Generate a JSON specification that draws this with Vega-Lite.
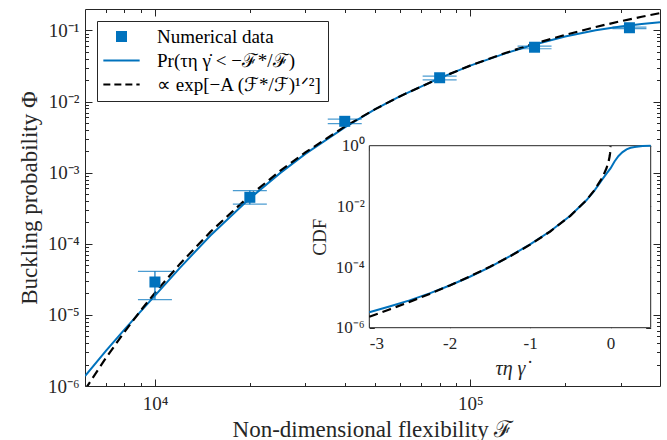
{
  "$schema": "https://vega.github.io/schema/vega-lite/v6.json",
  "width": 575,
  "height": 377,
  "autosize": {"type": "none"},
  "padding": {"left": 85, "top": 9, "right": 7, "bottom": 54},
  "background": "white",
  "datasets": {
    "blue": [
      {"F": 6000, "P": 1.38e-6, "s": "Pr(τη γ̇ < −ℱ*/ℱ)"},
      {"F": 7000, "P": 3.148e-6, "s": "Pr(τη γ̇ < −ℱ*/ℱ)"},
      {"F": 8000, "P": 6.22e-6, "s": "Pr(τη γ̇ < −ℱ*/ℱ)"},
      {"F": 9000, "P": 1.114e-5, "s": "Pr(τη γ̇ < −ℱ*/ℱ)"},
      {"F": 10000, "P": 1.862e-5, "s": "Pr(τη γ̇ < −ℱ*/ℱ)"},
      {"F": 12000, "P": 4.59e-5, "s": "Pr(τη γ̇ < −ℱ*/ℱ)"},
      {"F": 15000, "P": 1.309e-4, "s": "Pr(τη γ̇ < −ℱ*/ℱ)"},
      {"F": 20000, "P": 4.35e-4, "s": "Pr(τη γ̇ < −ℱ*/ℱ)"},
      {"F": 25000, "P": 9.93e-4, "s": "Pr(τη γ̇ < −ℱ*/ℱ)"},
      {"F": 30000, "P": 1.837e-3, "s": "Pr(τη γ̇ < −ℱ*/ℱ)"},
      {"F": 40000, "P": 4.33e-3, "s": "Pr(τη γ̇ < −ℱ*/ℱ)"},
      {"F": 50000, "P": 7.82e-3, "s": "Pr(τη γ̇ < −ℱ*/ℱ)"},
      {"F": 60000, "P": 0.01189, "s": "Pr(τη γ̇ < −ℱ*/ℱ)"},
      {"F": 80000, "P": 0.02138, "s": "Pr(τη γ̇ < −ℱ*/ℱ)"},
      {"F": 100000, "P": 0.03199, "s": "Pr(τη γ̇ < −ℱ*/ℱ)"},
      {"F": 130000, "P": 0.04797, "s": "Pr(τη γ̇ < −ℱ*/ℱ)"},
      {"F": 160000, "P": 0.06339, "s": "Pr(τη γ̇ < −ℱ*/ℱ)"},
      {"F": 200000, "P": 0.08222, "s": "Pr(τη γ̇ < −ℱ*/ℱ)"},
      {"F": 250000, "P": 0.1007, "s": "Pr(τη γ̇ < −ℱ*/ℱ)"},
      {"F": 300000, "P": 0.1132, "s": "Pr(τη γ̇ < −ℱ*/ℱ)"},
      {"F": 350000, "P": 0.123, "s": "Pr(τη γ̇ < −ℱ*/ℱ)"},
      {"F": 400000, "P": 0.1303, "s": "Pr(τη γ̇ < −ℱ*/ℱ)"}
    ],
    "dash": [
      {"F": 6000, "P": 8.91e-7, "s": "∝ exp[−A (ℱ*/ℱ)¹ᐟ²]"},
      {"F": 7000, "P": 2.5e-6, "s": "∝ exp[−A (ℱ*/ℱ)¹ᐟ²]"},
      {"F": 8000, "P": 5.74e-6, "s": "∝ exp[−A (ℱ*/ℱ)¹ᐟ²]"},
      {"F": 9000, "P": 1.14e-5, "s": "∝ exp[−A (ℱ*/ℱ)¹ᐟ²]"},
      {"F": 10000, "P": 2.042e-5, "s": "∝ exp[−A (ℱ*/ℱ)¹ᐟ²]"},
      {"F": 12000, "P": 5.21e-5, "s": "∝ exp[−A (ℱ*/ℱ)¹ᐟ²]"},
      {"F": 15000, "P": 1.469e-4, "s": "∝ exp[−A (ℱ*/ℱ)¹ᐟ²]"},
      {"F": 20000, "P": 4.76e-4, "s": "∝ exp[−A (ℱ*/ℱ)¹ᐟ²]"},
      {"F": 25000, "P": 1.064e-3, "s": "∝ exp[−A (ℱ*/ℱ)¹ᐟ²]"},
      {"F": 30000, "P": 1.923e-3, "s": "∝ exp[−A (ℱ*/ℱ)¹ᐟ²]"},
      {"F": 40000, "P": 4.43e-3, "s": "∝ exp[−A (ℱ*/ℱ)¹ᐟ²]"},
      {"F": 50000, "P": 7.82e-3, "s": "∝ exp[−A (ℱ*/ℱ)¹ᐟ²]"},
      {"F": 60000, "P": 0.01189, "s": "∝ exp[−A (ℱ*/ℱ)¹ᐟ²]"},
      {"F": 80000, "P": 0.02138, "s": "∝ exp[−A (ℱ*/ℱ)¹ᐟ²]"},
      {"F": 100000, "P": 0.03199, "s": "∝ exp[−A (ℱ*/ℱ)¹ᐟ²]"},
      {"F": 130000, "P": 0.04853, "s": "∝ exp[−A (ℱ*/ℱ)¹ᐟ²]"},
      {"F": 160000, "P": 0.06516, "s": "∝ exp[−A (ℱ*/ℱ)¹ᐟ²]"},
      {"F": 200000, "P": 0.0865, "s": "∝ exp[−A (ℱ*/ℱ)¹ᐟ²]"},
      {"F": 250000, "P": 0.1117, "s": "∝ exp[−A (ℱ*/ℱ)¹ᐟ²]"},
      {"F": 300000, "P": 0.1346, "s": "∝ exp[−A (ℱ*/ℱ)¹ᐟ²]"},
      {"F": 350000, "P": 0.1556, "s": "∝ exp[−A (ℱ*/ℱ)¹ᐟ²]"},
      {"F": 400000, "P": 0.175, "s": "∝ exp[−A (ℱ*/ℱ)¹ᐟ²]"}
    ],
    "pts": [
      {"F": 10000, "P": 2.9e-5, "lo": 1.64e-5, "hi": 4.1e-5, "s": "Numerical data"},
      {"F": 20000, "P": 4.5e-4, "lo": 3.6e-4, "hi": 5.6e-4, "s": "Numerical data"},
      {"F": 40000, "P": 5.27e-3, "lo": 4.9e-3, "hi": 5.64e-3, "s": "Numerical data"},
      {"F": 80000, "P": 2.16e-2, "lo": 2.02e-2, "hi": 2.28e-2, "s": "Numerical data"},
      {"F": 160000, "P": 5.8e-2, "lo": 5.52e-2, "hi": 6.01e-2, "s": "Numerical data"},
      {"F": 320000, "P": 0.109, "lo": 0.106, "hi": 0.111, "s": "Numerical data"}
    ],
    "iblue": [
      {"t": -3, "c": 3.24e-6}, {"t": -2.75, "c": 5.01e-6}, {"t": -2.5, "c": 7.94e-6},
      {"t": -2.25, "c": 1.349e-5}, {"t": -2, "c": 2.455e-5}, {"t": -1.75, "c": 4.79e-5},
      {"t": -1.5, "c": 1.0e-4}, {"t": -1.25, "c": 2.29e-4}, {"t": -1, "c": 5.62e-4},
      {"t": -0.75, "c": 1.514e-3}, {"t": -0.5, "c": 4.9e-3}, {"t": -0.3, "c": 0.01585},
      {"t": -0.2, "c": 0.0331}, {"t": -0.1, "c": 0.0794}, {"t": -0.05, "c": 0.1202},
      {"t": 0, "c": 0.178}, {"t": 0.05, "c": 0.302}, {"t": 0.1, "c": 0.457},
      {"t": 0.15, "c": 0.617}, {"t": 0.2, "c": 0.759}, {"t": 0.25, "c": 0.851},
      {"t": 0.3, "c": 0.912}, {"t": 0.4, "c": 0.977}, {"t": 0.5, "c": 0.995}
    ],
    "idash": [
      {"t": -3, "c": 2.3e-6}, {"t": -2.75, "c": 3.99e-6}, {"t": -2.5, "c": 7.1e-6},
      {"t": -2.25, "c": 1.3e-5}, {"t": -2, "c": 2.47e-5}, {"t": -1.75, "c": 4.89e-5},
      {"t": -1.5, "c": 1.019e-4}, {"t": -1.25, "c": 2.26e-4}, {"t": -1, "c": 5.46e-4},
      {"t": -0.75, "c": 1.486e-3}, {"t": -0.5, "c": 4.86e-3}, {"t": -0.3, "c": 0.01603},
      {"t": -0.2, "c": 0.034}, {"t": -0.1, "c": 0.0904}, {"t": -0.05, "c": 0.1803},
      {"t": -0.02, "c": 0.333}, {"t": -0.01, "c": 0.455}, {"t": -0.005, "c": 0.566},
      {"t": -0.001, "c": 0.757}, {"t": 0, "c": 0.959}
    ],
    "ibox": [
      {"t": -3, "t2": 0.5, "c": 1e-6, "c2": 1}
    ]
  },
  "layer": [
    {
      "encoding": {
        "x": {
          "field": "F", "type": "quantitative", "title": "Non-dimensional flexibility ℱ",
          "scale": {"type": "log", "domain": [6000, 400000], "nice": false},
          "axis": {
            "orient": "bottom",
            "values": [7000, 8000, 9000, 10000, 20000, 30000, 40000, 50000, 60000, 70000, 80000, 90000, 100000, 200000, 300000],
            "labelExpr": "datum.value == 10000 ? '10⁴' : datum.value == 100000 ? '10⁵' : ''",
            "tickSize": {"condition": {"test": "datum.value == 10000 || datum.value == 100000", "value": -7}, "value": -3.5},
            "labelPadding": 15, "labelFontSize": 19, "titleFontSize": 23, "titlePadding": 5
          }
        }
      },
      "layer": [
        {
          "data": {"name": "blue"},
          "mark": {"type": "line", "strokeWidth": 2, "clip": true},
          "encoding": {
            "y": {
              "field": "P", "type": "quantitative", "title": "Buckling probability Φ",
              "scale": {"type": "log", "domain": [1e-6, 0.2], "nice": false},
              "axis": {
                "orient": "left",
                "values": [2e-6, 3e-6, 4e-6, 5e-6, 6e-6, 7e-6, 8e-6, 9e-6, 1e-5, 2e-5, 3e-5, 4e-5, 5e-5, 6e-5, 7e-5, 8e-5, 9e-5, 1e-4, 2e-4, 3e-4, 4e-4, 5e-4, 6e-4, 7e-4, 8e-4, 9e-4, 1e-3, 2e-3, 3e-3, 4e-3, 5e-3, 6e-3, 7e-3, 8e-3, 9e-3, 0.01, 0.02, 0.03, 0.04, 0.05, 0.06, 0.07, 0.08, 0.09, 0.1, 1e-6],
                "labelExpr": "datum.value == 1e-6 ? '10⁻⁶' : datum.value == 1e-5 ? '10⁻⁵' : datum.value == 1e-4 ? '10⁻⁴' : datum.value == 1e-3 ? '10⁻³' : datum.value == 0.01 ? '10⁻²' : datum.value == 0.1 ? '10⁻¹' : ''",
                "tickSize": {"condition": {"test": "indexof([1e-6, 1e-5, 1e-4, 1e-3, 0.01, 0.1], datum.value) >= 0", "value": -7}, "value": -3.5},
                "labelPadding": 13, "labelFontSize": 19, "titleFontSize": 23, "titlePadding": 6
              }
            },
            "color": {
              "field": "s", "type": "nominal",
              "scale": {"domain": ["Numerical data", "Pr(τη γ̇ < −ℱ*/ℱ)", "∝ exp[−A (ℱ*/ℱ)¹ᐟ²]"], "range": ["#0072BD", "#0072BD", "#000000"]},
              "legend": {
                "orient": "none", "legendX": 12, "legendY": 12, "title": null,
                "strokeColor": "#262626", "fillColor": "white", "padding": 6, "cornerRadius": 0,
                "labelFont": "Liberation Serif", "labelFontSize": 19, "labelColor": "#000000", "labelLimit": 400,
                "symbolSize": 121, "symbolOffset": 9, "labelOffset": 26, "rowPadding": 4,
                "encode": {
                  "symbols": {
                    "update": {
                      "shape": {"signal": "datum.value == 'Numerical data' ? 'square' : 'M-3.3,0H3.3'"},
                      "fill": {"signal": "datum.value == 'Numerical data' ? '#0072BD' : 'transparent'"},
                      "stroke": {"signal": "datum.value == 'Numerical data' ? 'transparent' : (indexof(datum.value, 'exp') >= 0 ? '#000000' : '#0072BD')"},
                      "strokeWidth": {"signal": "datum.value == 'Numerical data' ? 0 : 2.2"},
                      "strokeDash": {"signal": "indexof(datum.value, 'exp') >= 0 ? [7, 4] : [1, 0]"},
                      "opacity": {"value": 1}
                    }
                  }
                }
              }
            }
          }
        },
        {
          "data": {"name": "dash"},
          "mark": {"type": "line", "strokeWidth": 2.2, "strokeDash": [9, 5], "clip": true},
          "encoding": {
            "y": {"field": "P", "type": "quantitative", "title": "Buckling probability Φ"},
            "color": {"field": "s", "type": "nominal"}
          }
        },
        {
          "data": {"name": "pts"},
          "mark": {"type": "rule", "color": "#0072BD", "strokeWidth": 1.2},
          "encoding": {
            "y": {"field": "lo", "type": "quantitative", "title": "Buckling probability Φ"},
            "y2": {"field": "hi"}
          }
        },
        {
          "data": {"name": "pts"},
          "mark": {"type": "tick", "orient": "horizontal", "size": 34, "thickness": 1.2, "color": "#0072BD"},
          "encoding": {
            "y": {"field": "lo", "type": "quantitative", "title": "Buckling probability Φ"}
          }
        },
        {
          "data": {"name": "pts"},
          "mark": {"type": "tick", "orient": "horizontal", "size": 34, "thickness": 1.2, "color": "#0072BD"},
          "encoding": {
            "y": {"field": "hi", "type": "quantitative", "title": "Buckling probability Φ"}
          }
        },
        {
          "data": {"name": "pts"},
          "mark": {"type": "point", "shape": "square", "filled": true, "size": 121, "opacity": 1},
          "encoding": {
            "y": {"field": "P", "type": "quantitative", "title": "Buckling probability Φ"},
            "color": {"field": "s", "type": "nominal"}
          }
        }
      ]
    },
    {
      "data": {"name": "dash"},
      "mark": {"type": "point", "opacity": 0},
      "encoding": {
        "x": {
          "field": "F", "type": "quantitative", "title": null,
          "scale": {"type": "log", "domain": [6000, 400000], "nice": false},
          "axis": {
            "orient": "top", "labels": false, "title": null,
            "values": [7000, 8000, 9000, 10000, 20000, 30000, 40000, 50000, 60000, 70000, 80000, 90000, 100000, 200000, 300000],
            "tickSize": {"condition": {"test": "datum.value == 10000 || datum.value == 100000", "value": -7}, "value": -3.5}
          }
        },
        "y": {
          "field": "P", "type": "quantitative", "title": null,
          "scale": {"type": "log", "domain": [1e-6, 0.2], "nice": false},
          "axis": {
            "orient": "right", "labels": false, "title": null,
            "values": [2e-6, 3e-6, 4e-6, 5e-6, 6e-6, 7e-6, 8e-6, 9e-6, 1e-5, 2e-5, 3e-5, 4e-5, 5e-5, 6e-5, 7e-5, 8e-5, 9e-5, 1e-4, 2e-4, 3e-4, 4e-4, 5e-4, 6e-4, 7e-4, 8e-4, 9e-4, 1e-3, 2e-3, 3e-3, 4e-3, 5e-3, 6e-3, 7e-3, 8e-3, 9e-3, 0.01, 0.02, 0.03, 0.04, 0.05, 0.06, 0.07, 0.08, 0.09, 0.1],
            "tickSize": {"condition": {"test": "indexof([1e-6, 1e-5, 1e-4, 1e-3, 0.01, 0.1], datum.value) >= 0", "value": -7}, "value": -3.5}
          }
        }
      }
    },
    {
      "encoding": {
        "x": {
          "field": "t", "type": "quantitative", "title": "τη γ̇",
          "scale": {"domain": [-3, 0.5], "range": [284.3, 565.7], "nice": false, "zero": false},
          "axis": {
            "orient": "bottom", "offset": -58.3, "values": [-3, -2, -1, 0],
            "labelExpr": "'' + datum.value",
            "tickSize": -5, "labelPadding": 13, "labelFontSize": 17,
            "titleFontSize": 20, "titleFontStyle": "italic", "titlePadding": 7
          }
        },
        "y": {
          "field": "c", "type": "quantitative", "title": "CDF",
          "scale": {"type": "log", "domain": [1e-6, 1], "range": [318.7, 136.7], "nice": false},
          "axis": {
            "orient": "left", "offset": -284.3, "values": [1e-6, 1e-4, 0.01, 1],
            "labelExpr": "datum.value == 1 ? '10⁰' : datum.value == 0.01 ? '10⁻²' : datum.value == 1e-4 ? '10⁻⁴' : '10⁻⁶'",
            "tickSize": -5, "labelPadding": 10, "labelFontSize": 17,
            "titleFontSize": 19, "titlePadding": 6
          }
        }
      },
      "layer": [
        {
          "data": {"name": "ibox"},
          "mark": {"type": "rect", "fill": "white", "stroke": "#262626", "strokeWidth": 1},
          "encoding": {
            "x2": {"field": "t2"},
            "y2": {"field": "c2"}
          }
        },
        {
          "data": {"name": "iblue"},
          "mark": {"type": "line", "strokeWidth": 2, "color": "#0072BD"}
        },
        {
          "data": {"name": "idash"},
          "mark": {"type": "line", "strokeWidth": 2.2, "strokeDash": [9, 5], "color": "#000000"}
        }
      ]
    },
    {
      "data": {"name": "idash"},
      "mark": {"type": "point", "opacity": 0},
      "encoding": {
        "x": {
          "field": "t", "type": "quantitative", "title": null,
          "scale": {"domain": [-3, 0.5], "range": [284.3, 565.7], "nice": false, "zero": false},
          "axis": {"orient": "top", "offset": -136.7, "values": [-3, -2, -1, 0], "labels": false, "tickSize": -5, "title": null}
        },
        "y": {
          "field": "c", "type": "quantitative", "title": null,
          "scale": {"type": "log", "domain": [1e-6, 1], "range": [318.7, 136.7], "nice": false},
          "axis": {"orient": "right", "offset": -9.3, "values": [1e-6, 1e-4, 0.01, 1], "labels": false, "tickSize": -5, "title": null}
        }
      }
    }
  ],
  "resolve": {"scale": {"x": "independent", "y": "independent", "color": "independent"}},
  "config": {
    "view": {"stroke": "#262626", "strokeWidth": 1},
    "axis": {
      "labelFont": "Liberation Serif", "titleFont": "Liberation Serif", "titleFontWeight": "normal",
      "labelColor": "#262626", "titleColor": "#262626", "tickColor": "#262626", "tickWidth": 1,
      "domain": false, "grid": false, "zindex": 1
    }
  }
}
